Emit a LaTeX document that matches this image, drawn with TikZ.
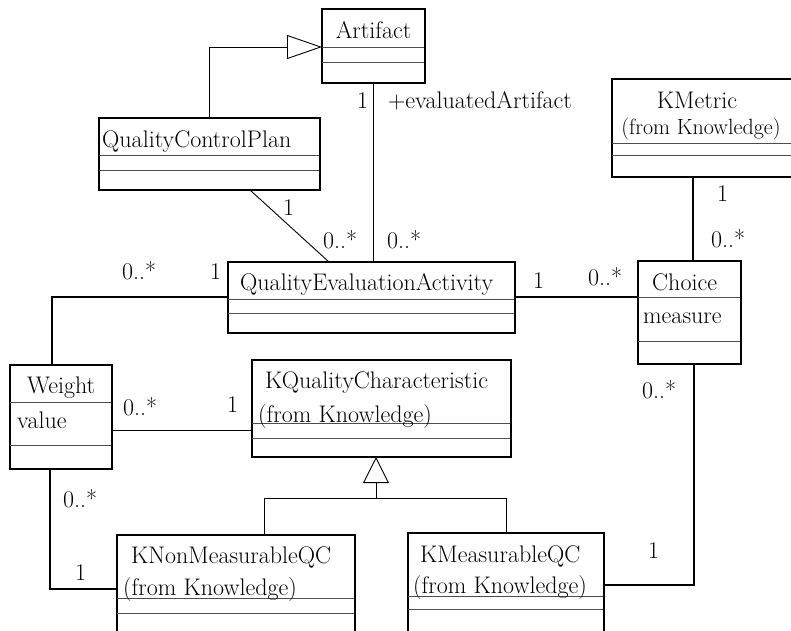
\documentclass[tikz,border=0pt]{standalone}
\usepackage{fontspec}
\usetikzlibrary{arrows.meta}
\newcommand\umlcls[7]{%
  \node[clsbox, minimum width={(#4-#2)*1pt}, minimum height={(#5-#3)*1pt}] (#1) at (#2,#3) {};
  \draw[sepline] (#2,#6) -- (#4,#6);
  \draw[sepline] (#2,#7) -- (#4,#7);
  \draw[line width=1.8pt] (#1.south west) -- (#1.south east) -- (#1.north east);}
\begin{document}
\begin{tikzpicture}[x=1pt,y=-1pt,
  clsbox/.style={draw, line width=1.1pt, rectangle, inner sep=0pt, outer sep=0pt, anchor=north west},
  sepline/.style={draw=black!70, line width=0.9pt},
  lbl/.style={inner sep=0pt, anchor=base west, font=\fontsize{24}{28}\selectfont\addfontfeatures{FakeBold=0.35}},
  smalllbl/.style={inner sep=0pt, anchor=base, font=\fontsize{22}{26}\selectfont\addfontfeatures{FakeBold=0.35}},
  assoc/.style={line width=0.9pt},
  assocb/.style={line width=1.8pt},
  genA/.style={line width=0.9pt, -{Triangle[open, length=35pt, width=24pt]}},
  genB/.style={line width=0.9pt, -{Triangle[open, length=26pt, width=26pt]}}]
\useasboundingbox[fill=white] (0,0) rectangle (791,630);
\begin{scope}
\clip (0,0) rectangle (791,630);
% classes
\umlcls{art}{322}{9}{425}{83}{47}{62}
\umlcls{qcp}{99}{118}{320}{190}{155}{170}
\umlcls{qea}{228}{262}{515}{333}{299}{313}
\umlcls{kmet}{612}{79}{800}{177}{143}{155}
\umlcls{choice}{638}{261}{741}{364}{297}{341}
\umlcls{weight}{10}{365}{112}{469}{402}{445}
\umlcls{kqc}{252}{360}{511}{457}{423}{438}
\umlcls{knm}{117}{535}{355}{660}{598}{613}
\umlcls{kmq}{408}{533}{604}{660}{596}{609}

% class texts
\node[lbl, anchor=base] (tart) at (373.5,38) {Artifact};
\node[lbl] (tqcp) at (102,147) {QualityControlPlan};
\node[lbl] (tqea) at (240,290) {QualityEvaluationActivity};
\node[lbl, anchor=base] (tkmet) at (697,108) {KMetric};
\node[smalllbl] (tkmetf) at (701,134) {(from Knowledge)};
\node[lbl] (tchoice) at (652,290) {Choice};
\node[lbl] (tmeasure) at (643,323) {measure};
\node[lbl] (tweight) at (27,393) {Weight};
\node[lbl] (tvalue) at (17,428) {value};
\node[lbl] (tkqc) at (265,388) {KQualityCharacteristic};
\node[lbl] (tkqcf) at (258,422) {(from Knowledge)};
\node[lbl] (tknm) at (131,563) {KNonMeasurableQC};
\node[lbl] (tknmf) at (123,595) {(from Knowledge)};
\node[lbl] (tkmq) at (420,562) {KMeasurableQC};
\node[lbl] (tkmqf) at (413,593) {(from Knowledge)};

% connector anchor points
\coordinate (pqcp) at ([xshift=-70pt]qcp.south east);
\coordinate (pqea) at ([xshift=101pt]qea.north west);
\coordinate (pwtop) at ([xshift=42pt]weight.north west);
\coordinate (pqeal) at ([yshift=-35pt]qea.north west);
\coordinate (pwr) at ([yshift=-13pt]weight.east);
\coordinate (pwbot) at ([xshift=40pt]weight.south west);
\coordinate (pknml) at ([yshift=-54pt]knm.north west);
\coordinate (pchl) at ([yshift=-36pt]choice.north west);
\coordinate (pchtop) at ([xshift=55pt]choice.north west);
\coordinate (pchbot) at ([xshift=56pt]choice.south west);
\coordinate (pkmqr) at ([yshift=-52pt]kmq.north east);
\coordinate (partr) at ([yshift=-38pt]art.north west);
\coordinate (pknmt) at ([xshift=147pt]knm.north west);
\coordinate (pkmqt) at ([xshift=98pt]kmq.north west);
\coordinate (junc) at (376,498);

% connectors
\draw[genA] (qcp.north) |- (partr);
\draw[assoc] (art.south) -- (art.south |- qea.north);
\draw[assoc] (pqcp) -- (pqea);
\draw[assocb] (pwtop) |- (pqeal);
\draw[assoc] (pwr) -- (kqc.west |- pwr);
\draw[assocb] (pwbot) |- (pknml);
\draw[assocb] (pchl) -- (qea.east |- pchl);
\draw[assocb] (pchtop) -- (kmet.south -| pchtop);
\draw[assocb] (pchbot) |- (pkmqr);
\draw[genB] (junc) -- (kqc.south -| junc);
\draw[assoc] (pknmt) |- (junc);
\draw[assoc] (pkmqt) |- (junc);

% multiplicities
\node[lbl] (m1) at (357,108) {1};
\node[lbl] (role) at (388,108) {+evaluatedArtifact};
\node[lbl] (m2) at (283,215) {1};
\node[lbl] (m3) at (323,248) {0..*};
\node[lbl] (m4) at (387,248) {0..*};
\node[lbl] (m5) at (122,279) {0..*};
\node[lbl] (m6) at (210,279) {1};
\node[lbl] (m7) at (533,288) {1};
\node[lbl] (m8) at (588,285) {0..*};
\node[lbl] (m9) at (717,201) {1};
\node[lbl] (m10) at (711,247) {0..*};
\node[lbl] (m11) at (642,398) {0..*};
\node[lbl] (m12) at (648,558) {1};
\node[lbl] (m13) at (123,415) {0..*};
\node[lbl] (m14) at (227,412) {1};
\node[lbl] (m15) at (63,507) {0..*};
\node[lbl] (m16) at (75,580) {1};
\end{scope}
\end{tikzpicture}
\end{document}
